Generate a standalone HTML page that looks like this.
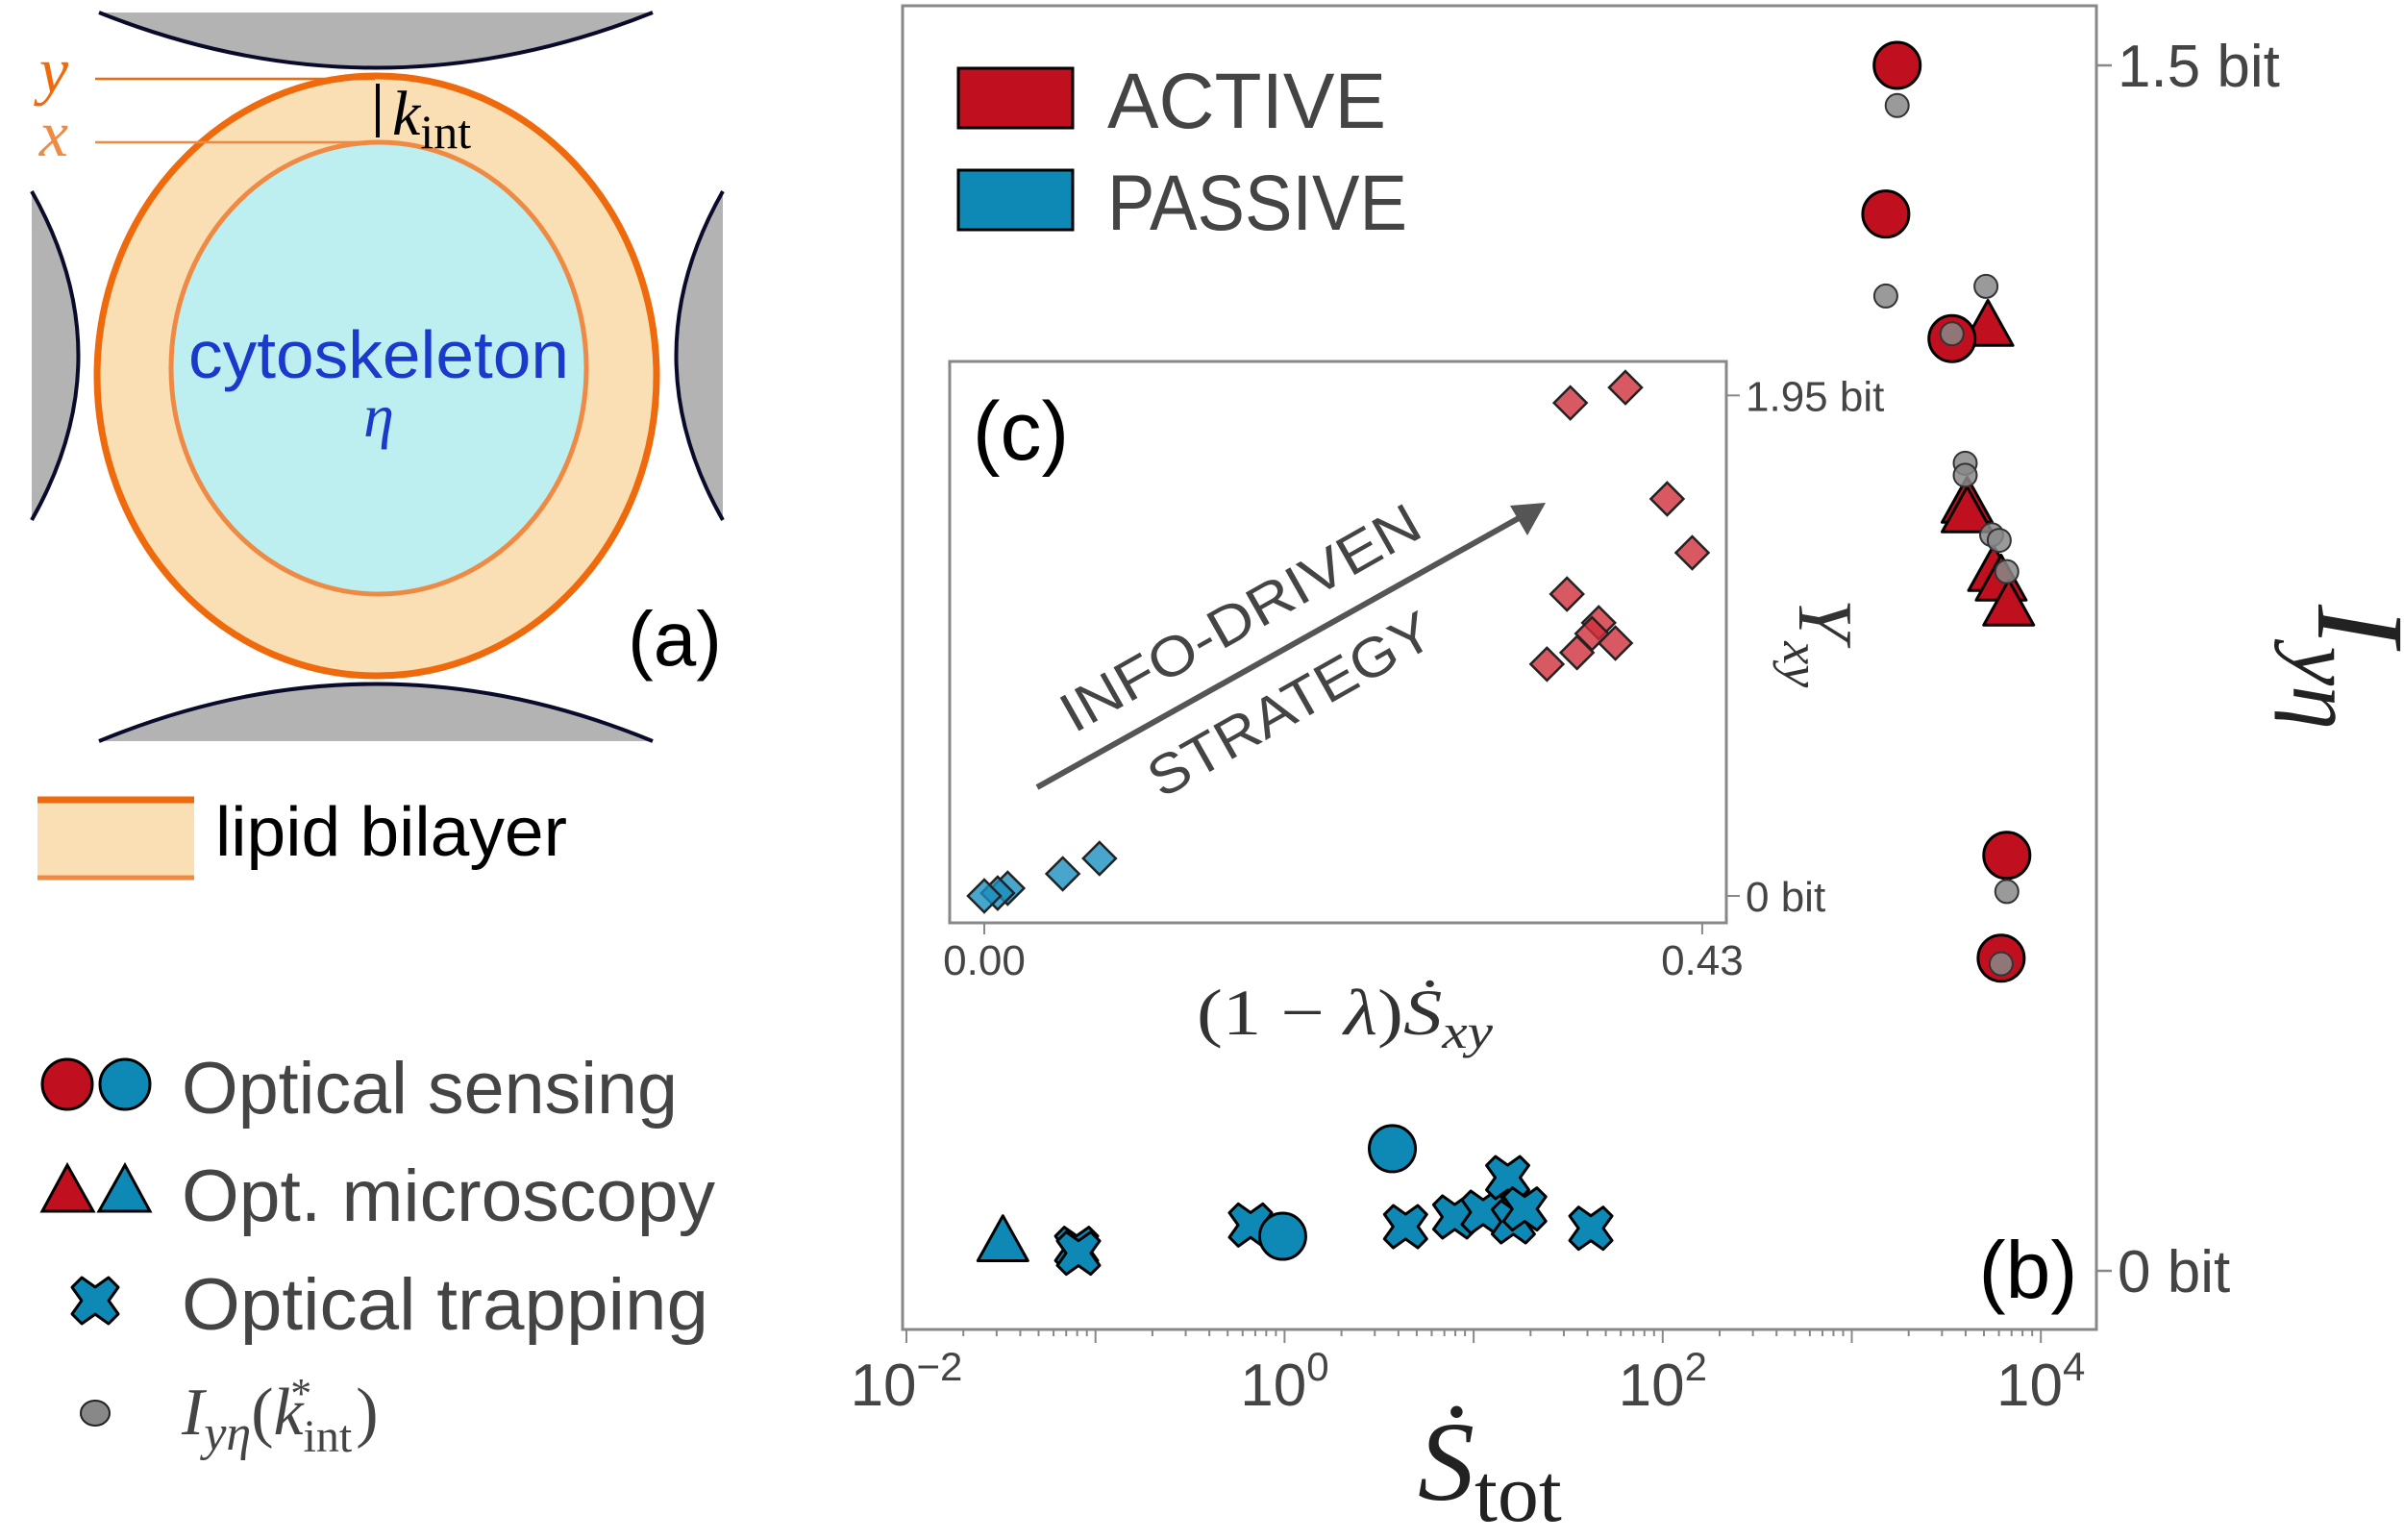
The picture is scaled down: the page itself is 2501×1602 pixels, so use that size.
<!DOCTYPE html>
<html><head><meta charset="utf-8"><style>
html,body{margin:0;padding:0;background:#fff;}
svg{display:block;font-family:"Liberation Sans","DejaVu Sans",sans-serif;}
</style></head><body>
<svg id="fig" width="2501" height="1602" viewBox="0 0 2501 1602" xmlns="http://www.w3.org/2000/svg">
<!-- Panel (a) -->
<g>
  <path d="M103,13 L679,13 Q391,128 103,13 Z" fill="#b3b3b3"/>
  <path d="M103,13 Q391,128 679,13" fill="none" stroke="#0a0a2a" stroke-width="4"/>
  <path d="M103,771 Q391,652 679,771 Z" fill="#b3b3b3"/>
  <path d="M103,771 Q391,652 679,771" fill="none" stroke="#0a0a2a" stroke-width="4"/>
  <path d="M33,199 Q130,370 33,541 Z" fill="#b3b3b3"/>
  <path d="M33,199 Q130,370 33,541" fill="none" stroke="#0a0a2a" stroke-width="4"/>
  <path d="M752,199 Q655,370 752,541 Z" fill="#b3b3b3"/>
  <path d="M752,199 Q655,370 752,541" fill="none" stroke="#0a0a2a" stroke-width="4"/>
  <ellipse cx="392" cy="391" rx="291" ry="312" fill="#f9dfb3" stroke="#ef6a0c" stroke-width="7"/>
  <ellipse cx="394" cy="383" rx="216" ry="235" fill="#bdeef0" stroke="#ef8a45" stroke-width="5"/>
  <line x1="99" y1="82" x2="390" y2="82" stroke="#ef6a0c" stroke-width="2.5"/>
  <line x1="99" y1="148" x2="390" y2="148" stroke="#ef8a45" stroke-width="2.5"/>
  <text x="56" y="96" font-family="Liberation Serif,serif" font-style="italic" font-size="68" fill="#ef6a0c" text-anchor="middle">y</text>
  <text x="56" y="162" font-family="Liberation Serif,serif" font-style="italic" font-size="68" fill="#ef8a45" text-anchor="middle">x</text>
  <line x1="393" y1="87" x2="393" y2="143" stroke="#000" stroke-width="4"/>
  <text x="408" y="140" font-family="Liberation Serif,serif" font-size="66" fill="#000"><tspan font-style="italic">k</tspan><tspan font-size="50" dy="14">int</tspan></text>
  <text x="394" y="393" font-size="70" fill="#1a3acb" text-anchor="middle" textLength="396" lengthAdjust="spacingAndGlyphs">cytoskeleton</text>
  <text x="394" y="454" font-family="Liberation Serif,serif" font-style="italic" font-size="64" fill="#1a3acb" text-anchor="middle">η</text>
  <text x="702" y="692" font-size="80" fill="#000" text-anchor="middle">(a)</text>
  <rect x="39" y="830" width="163" height="84" fill="#f9dfb3"/>
  <line x1="39" y1="832" x2="202" y2="832" stroke="#ef6a0c" stroke-width="7"/>
  <line x1="39" y1="913" x2="202" y2="913" stroke="#ef8a45" stroke-width="5"/>
  <text x="224" y="890" font-size="72" fill="#000" textLength="366" lengthAdjust="spacingAndGlyphs">lipid bilayer</text>
</g>
<!-- Marker legend -->
<g fill="#444">
  <circle cx="70" cy="1128" r="26" fill="#c01020" stroke="#000" stroke-width="3"/>
  <circle cx="130" cy="1128" r="26" fill="#0e88b4" stroke="#000" stroke-width="3"/>
  <text x="189" y="1158" font-size="76" textLength="516" lengthAdjust="spacingAndGlyphs">Optical sensing</text>
  <polygon points="44,1260 70,1212 97,1260" fill="#c01020" stroke="#000" stroke-width="3"/>
  <polygon points="103,1260 130,1212 156,1260" fill="#0e88b4" stroke="#000" stroke-width="3"/>
  <text x="189" y="1270" font-size="76" textLength="555" lengthAdjust="spacingAndGlyphs">Opt. microscopy</text>
  <text x="189" y="1383" font-size="76" textLength="548" lengthAdjust="spacingAndGlyphs">Optical trapping</text>
  <ellipse cx="99" cy="1470" rx="15" ry="13" fill="#888" stroke="#222" stroke-width="2"/>
  <text x="189" y="1492" font-family="Liberation Serif,serif" font-style="italic" font-size="70">I<tspan font-size="52" dy="16">yη</tspan><tspan dy="-16" font-style="normal">(</tspan>k<tspan font-size="48" font-style="normal" dy="18">int</tspan><tspan font-size="44" font-style="normal" dx="-64" dy="-46">*</tspan><tspan font-style="normal" dx="46" dy="28">)</tspan></text>
  <g id="legX"></g>
</g>
<!-- Main plot -->
<g id="main"></g>
<g id="inset"></g>
</svg>
<script>
// Main chart data
const activeCircX = [3.24, 3.18, 3.53, 3.82, 3.79];
const activeCircI = [1.5, 1.315, 1.16, 0.517, 0.389];
const activeCircOpt = [1.45, 1.213, 1.166, 0.472, 0.382];
const activeTriX = [3.72, 3.61, 3.61, 3.75, 3.79, 3.83];
const activeTriI = [1.178, 0.958, 0.946, 0.873, 0.861, 0.830];
const activeTriOpt = [1.225, 1.005, 0.99, 0.916, 0.909, 0.870];
const passCircX = [-0.01, 0.57];
const passCircI = [0.043, 0.152];
const passTriX = [-1.49];
const passTriI = [0.039];
const passXX = [-1.10, -1.09, -0.18, 0.64, 0.90, 1.05, 1.18, 1.21, 1.27, 1.62];
const passXI = [0.028, 0.022, 0.057, 0.055, 0.067, 0.073, 0.116, 0.061, 0.077, 0.053];
const xTickExp = [-2, 0, 2, 4];
const yTicks = [0, 1.5];
const yTickLabels = ["0 bit", "1.5 bit"];
// Inset data
const insetActiveX = [0.351, 0.384, 0.409, 0.424, 0.349, 0.368, 0.364, 0.378, 0.355, 0.337];
const insetActiveY = [1.921, 1.981, 1.547, 1.337, 1.176, 1.064, 1.022, 0.985, 0.948, 0.903];
const insetPassX = [0.069, 0.047, 0.014, 0.008, 0.0];
const insetPassY = [0.146, 0.086, 0.03, 0.011, 0.0];
const insetXTicks = [0, 0.43];
const insetXLabels = ["0.00", "0.43"];
const insetYTicks = [0, 1.95];
const insetYLabels = ["0 bit", "1.95 bit"];

const NS = "http://www.w3.org/2000/svg";
function mk(parent, tag, attrs, text) {
  const e = document.createElementNS(NS, tag);
  for (const k in attrs) e.setAttribute(k, attrs[k]);
  if (text !== undefined) e.textContent = text;
  parent.appendChild(e);
  return e;
}
const RED = "#c01020", BLUE = "#0e88b4";
const sx = v => 943 + (v + 2) * 196.7;
const sy = v => 1322 - v * 836;
const ix = v => 1024 + v * 1737;
const iy = v => 932 - v * 267;

const main = document.getElementById("main");
let fr = mk(main, "rect", {x: 939, y: 6, width: 1242, height: 1377, fill: "none", stroke: "#888", "stroke-width": 3});


for (let d = -2; d <= 4; d++) {
  for (let m = 1; m <= 9; m++) {
    const v = d + Math.log10(m);
    const X = sx(v);
    if (X > 2181) continue;
    const t = mk(main, "line", {x1: X, y1: 1383, x2: X, y2: m === 1 ? 1397 : 1390, stroke: "#888", "stroke-width": 2});
    
    
  }
}
xTickExp.forEach(e => {
  const t = mk(main, "text", {x: sx(e), y: 1462, "font-size": 62, fill: "#444", "text-anchor": "middle"});
  
  
  mk(t, "tspan", {}, "10");
  mk(t, "tspan", {dy: -26, "font-size": 42}, e < 0 ? "\u2212" + (-e) : String(e));
});
yTicks.forEach((v, i) => {
  const l = mk(main, "line", {x1: 2181, y1: sy(v), x2: 2197, y2: sy(v), stroke: "#888", "stroke-width": 2.5});
  
  
  const t = mk(main, "text", {x: 2203, y: sy(v) + 22, "font-size": 62, fill: "#444"}, yTickLabels[i]);
  
  
});
let xl = mk(main, "text", {x: 1475, y: 1560, "font-family": "Liberation Serif,serif", "font-size": 118, fill: "#222"});


mk(xl, "tspan", {"font-style": "italic"}, "S\u0307");
mk(xl, "tspan", {"font-size": 86, dy: 22}, "tot");
let yl = mk(main, "text", {x: 0, y: 0, "font-family": "Liberation Serif,serif", "font-size": 130, fill: "#222", "text-anchor": "middle", transform: "translate(2412,694) rotate(90)"});


mk(yl, "tspan", {"font-style": "italic"}, "I");
mk(yl, "tspan", {"font-style": "italic", "font-size": 92, dy: 26}, "yη");
[["ACTIVE", RED, 71], ["PASSIVE", BLUE, 177]].forEach(([lab, c, y]) => {
  const r = mk(main, "rect", {x: 997, y: y, width: 119, height: 62, fill: c, stroke: "#000", "stroke-width": 3});
  
  
  const t = mk(main, "text", {x: 1152, y: y + 62, "font-size": 82, fill: "#444", textLength: lab === "ACTIVE" ? 290 : 312, lengthAdjust: "spacingAndGlyphs"}, lab);
  
  
});
let pb = mk(main, "text", {x: 2110, y: 1350, "font-size": 84, fill: "#000", "text-anchor": "middle"}, "(b)");



function circ(g, X, Y, r, fill, name) {
  const c = mk(g, "circle", {cx: X, cy: Y, r: r, fill: fill, stroke: "#000", "stroke-width": 3});
  
  
}
function tri(g, X, Y, s, fill, name) {
  const p = mk(g, "polygon", {points: `${X - s},${Y + s * 0.85} ${X},${Y - s * 0.95} ${X + s},${Y + s * 0.85}`, fill: fill, stroke: "#000", "stroke-width": 3, "stroke-linejoin": "round"});
  
  
}
function cross(g, X, Y, s, fill, name) {
  const a = s, b = s * 0.42;
  const pts = [[-a,-a+b],[-a+b,-a],[0,-b*1.4],[a-b,-a],[a,-a+b],[b*1.4,0],[a,a-b],[a-b,a],[0,b*1.4],[-a+b,a],[-a,a-b],[-b*1.4,0]];
  const p = mk(g, "polygon", {points: pts.map(q => (X + q[0]) + "," + (Y + q[1])).join(" "), fill: fill, stroke: "#000", "stroke-width": 3, "stroke-linejoin": "round"});
  
  
}
function grey(g, X, Y, name) {
  const c = mk(g, "circle", {cx: X, cy: Y, r: 12, fill: "#888", "fill-opacity": 0.85, stroke: "#333", "stroke-width": 2});
  
  
}
cross(document.getElementById("legX"), 99, 1353, 24, BLUE, "legend-cross");
passXX.forEach((v, i) => cross(main, sx(v), sy(passXI[i]), 22, BLUE, "passive-trapping-point"));
passTriX.forEach((v, i) => tri(main, sx(v), sy(passTriI[i]), 26, BLUE, "passive-microscopy-point"));
passCircX.forEach((v, i) => circ(main, sx(v), sy(passCircI[i]), 24, BLUE, "passive-sensing-point"));
activeTriX.forEach((v, i) => tri(main, sx(v), sy(activeTriI[i]), 26, RED, "active-microscopy-point"));
activeCircX.forEach((v, i) => circ(main, sx(v), sy(activeCircI[i]), 24, RED, "active-sensing-point"));
activeTriX.forEach((v, i) => grey(main, sx(v) - 2, sy(activeTriOpt[i]), "optimal-info-point"));
activeCircX.forEach((v, i) => grey(main, sx(v), sy(activeCircOpt[i]), "optimal-info-point"));

// Inset
const ins = document.getElementById("inset");
let ib = mk(ins, "rect", {x: 988, y: 376, width: 808, height: 584, fill: "#fff", stroke: "#888", "stroke-width": 3});


insetXTicks.forEach((v, i) => {
  const l = mk(ins, "line", {x1: ix(v), y1: 960, x2: ix(v), y2: 972, stroke: "#888", "stroke-width": 2});
  
  
  const t = mk(ins, "text", {x: ix(v), y: 1014, "font-size": 44, fill: "#444", "text-anchor": "middle"}, insetXLabels[i]);
  
  
});
insetYTicks.forEach((v, i) => {
  const l = mk(ins, "line", {x1: 1796, y1: iy(v), x2: 1810, y2: iy(v), stroke: "#888", "stroke-width": 2});
  
  
  const t = mk(ins, "text", {x: 1816, y: iy(v) + 16, "font-size": 44, fill: "#444"}, insetYLabels[i]);
  
  
});
let ixl = mk(ins, "text", {x: 1245, y: 1076, "font-family": "Liberation Serif,serif", "font-size": 68, fill: "#333", textLength: 308, lengthAdjust: "spacingAndGlyphs"});


mk(ixl, "tspan", {}, "(1 \u2212 ");
mk(ixl, "tspan", {"font-style": "italic"}, "λ");
mk(ixl, "tspan", {}, ")");
mk(ixl, "tspan", {"font-style": "italic"}, "S\u0307");
mk(ixl, "tspan", {"font-style": "italic", "font-size": 50, dy: 14}, "xy");
let iyl = mk(ins, "text", {x: 0, y: 0, "font-family": "Liberation Serif,serif", "font-size": 80, fill: "#333", "text-anchor": "middle", transform: "translate(1872,669) rotate(90)"});


mk(iyl, "tspan", {"font-style": "italic"}, "Υ");
mk(iyl, "tspan", {"font-style": "italic", "font-size": 54, dy: 16}, "xy");
let pc = mk(ins, "text", {x: 1062, y: 478, "font-size": 86, fill: "#000", "text-anchor": "middle"}, "(c)");


let ar = mk(ins, "line", {x1: 1079, y1: 819, x2: 1580, y2: 539, stroke: "#555", "stroke-width": 6});


let ah = mk(ins, "polygon", {points: "1608,523 1571,526 1589,557", fill: "#555"});


let t1 = mk(ins, "text", {x: 0, y: 0, "font-size": 58, fill: "#444", "text-anchor": "middle", transform: "translate(1300,660) rotate(-29.5)", textLength: 420, lengthAdjust: "spacingAndGlyphs"}, "INFO-DRIVEN");


let t2 = mk(ins, "text", {x: 0, y: 0, "font-size": 58, fill: "#444", "text-anchor": "middle", transform: "translate(1352,750) rotate(-29.5)", textLength: 330, lengthAdjust: "spacingAndGlyphs"}, "STRATEGY");


function diamond(X, Y, fill, name) {
  const s = 17;
  const p = mk(ins, "polygon", {points: `${X},${Y - s} ${X + s},${Y} ${X},${Y + s} ${X - s},${Y}`, fill: fill, "fill-opacity": 0.8, stroke: "#222", "stroke-width": 2.5});
  
  
}
insetActiveX.forEach((v, i) => diamond(ix(v), iy(insetActiveY[i]), "#d0303c", "inset-active-point"));
insetPassX.forEach((v, i) => diamond(ix(v), iy(insetPassY[i]), "#1a8fbf", "inset-passive-point"));
</script>
</body></html>
